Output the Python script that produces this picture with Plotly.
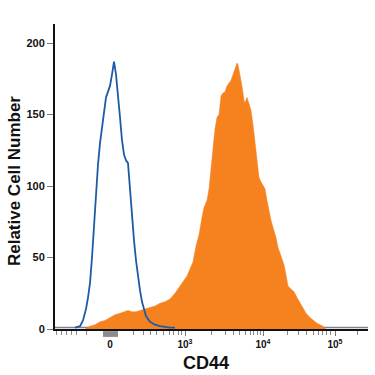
import plotly.graph_objects as go

# x positions are display channels of the biexponential CD44 axis
blue_x = [20, 25, 28, 31, 33, 35, 37, 39, 41, 43, 45, 47, 49, 51, 53, 55, 57, 59, 61, 63, 65, 67,
          69, 71, 73, 75, 77, 79, 81, 83, 85, 87, 89, 91, 93, 95, 100, 105, 115, 120]
blue_y = [1, 2, 6, 14, 22, 32, 50, 72, 98, 115, 130, 142, 152, 162, 166, 170, 178, 187, 178, 160,
          148, 132, 122, 118, 116, 98, 78, 62, 48, 36, 27, 19, 13, 9, 7, 5, 3, 2, 1, 1]

orange_x = [30, 35, 40, 45, 50, 55, 60, 65, 70, 73, 77, 81, 85, 90, 95, 100, 105, 110, 115, 120,
            125, 129, 132, 135, 138, 141, 144, 147, 149, 152, 154, 156, 158, 160, 162, 164, 166,
            168, 170, 172, 174, 176, 178, 180, 182, 183, 185, 187, 189, 190, 192, 194, 196, 198,
            200, 202, 204, 206, 208, 210, 212, 214, 216, 218, 221, 223, 226, 229, 231, 233, 236,
            239, 242, 245, 248, 251, 255, 258, 262, 265, 268, 271]
orange_y = [0, 2, 3, 5, 6, 8, 10, 11, 12, 13, 12, 12, 13, 14, 15, 16, 18, 19, 21, 25,
            30, 34, 37, 42, 47, 58, 66, 78, 85, 90, 98, 112, 125, 140, 148, 150, 163,
            165, 166, 170, 172, 174, 178, 182, 186, 185, 178, 170, 160, 158, 162, 158, 153, 143,
            130, 118, 106, 103, 100, 98, 90, 82, 76, 71, 64, 57, 51, 45, 38, 30, 28,
            26, 22, 18, 14, 11, 8, 6, 4, 3, 2, 0]

baseline_x = [0, 313]
baseline_y = [1, 1]

major_tick_pos = [55, 130, 208, 280]
major_tick_text = ["0", "10<sup>3</sup>", "10<sup>4</sup>", "10<sup>5</sup>"]
minor_tick_pos = [1, 6, 11, 16, 21, 31, 78, 88, 95, 101, 108, 114, 118, 123, 126,
                  156, 170, 178, 184, 190, 195, 198, 202, 205,
                  232, 243, 251, 258, 263, 267, 271, 275, 302]

y_ticks = [0, 50, 100, 150, 200]

fig = go.Figure()
fig.add_trace(go.Scatter(x=baseline_x, y=baseline_y, mode="lines",
                         line=dict(color="#7d8490", width=1.5), hoverinfo="skip"))
fig.add_trace(go.Scatter(x=orange_x, y=orange_y, mode="lines", fill="tozeroy",
                         fillcolor="#f5821f", line=dict(color="#f5821f", width=0.5)))
fig.add_trace(go.Scatter(x=blue_x, y=blue_y, mode="lines",
                         line=dict(color="#1c5ca6", width=1.8)))

fig.update_layout(
    width=375, height=375,
    margin=dict(l=55, r=7, t=24, b=46, autoexpand=False),
    plot_bgcolor="white", paper_bgcolor="white",
    showlegend=False,
    font=dict(family="Liberation Sans, Arial, sans-serif", color="#111"),
    xaxis=dict(range=[0, 313], showgrid=False, zeroline=False, automargin=False,
               showline=True, linecolor="#111", linewidth=1.5,
               tickmode="array", tickvals=major_tick_pos, ticktext=major_tick_text,
               ticks="outside", ticklen=5, tickcolor="#777", tickwidth=1,
               tickfont=dict(size=10, weight="bold", color="#111"),
               minor=dict(tickmode="array", tickvals=minor_tick_pos, ticks="outside",
                          ticklen=4, tickcolor="#888", tickwidth=1)),
    yaxis=dict(range=[0, 213.3], showgrid=False, zeroline=False, automargin=False,
               showline=True, linecolor="#111", linewidth=2,
               tickmode="array", tickvals=y_ticks,
               ticks="outside", ticklen=6, tickcolor="#777", tickwidth=1,
               tickfont=dict(size=11, weight="bold", color="#111")),
    annotations=[
        dict(text="Relative Cell Number", xref="paper", yref="paper", x=0, y=0.485,
             xshift=-41, xanchor="center", yanchor="middle", textangle=-90, showarrow=False,
             font=dict(size=17, weight="bold", color="#111")),
        dict(text="CD44", xref="x", yref="paper", x=151, y=0, yshift=-34,
             xanchor="center", yanchor="middle", showarrow=False,
             font=dict(size=18, weight="bold", color="#111")),
    ],
    shapes=[dict(type="rect", xref="x", yref="paper", x0=48, x1=63, y0=-0.026, y1=-0.007,
                 fillcolor="#8c8c8c", line=dict(width=0))],
)

fig.write_html("out.html",
               config={"displayModeBar": False},
               post_script="document.documentElement.style.margin='0';"
                           "document.body.style.margin='0';")
